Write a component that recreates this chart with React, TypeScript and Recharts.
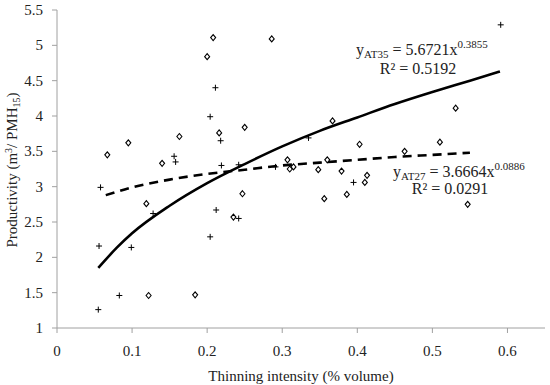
import {
  ComposedChart,
  Scatter,
  Line,
  XAxis,
  YAxis,
} from 'recharts';

// AT27 observations (diamonds)
const at27X = [
  0.067, 0.095, 0.119, 0.122, 0.14, 0.163, 0.184, 0.2, 0.208, 0.216, 0.235, 0.247,
  0.25, 0.286, 0.307, 0.31, 0.315, 0.348, 0.356, 0.36, 0.367, 0.379, 0.386, 0.403,
  0.41, 0.413, 0.463, 0.51, 0.531, 0.547,
];
const at27Y = [
  3.45, 3.62, 2.76, 1.46, 3.33, 3.71, 1.47, 4.84, 5.11, 3.76, 2.57, 2.9,
  3.84, 5.09, 3.38, 3.25, 3.28, 3.24, 2.83, 3.38, 3.93, 3.22, 2.89, 3.6,
  3.06, 3.16, 3.5, 3.63, 4.11, 2.75,
];

// AT35 observations (plus signs)
const at35X = [
  0.055, 0.056, 0.058, 0.083, 0.099, 0.128, 0.156, 0.158, 0.204, 0.204, 0.211, 0.212,
  0.218, 0.219, 0.242, 0.242, 0.291, 0.335, 0.395, 0.591,
];
const at35Y = [
  1.26, 2.16, 2.99, 1.46, 2.14, 2.62, 3.43, 3.35, 3.99, 2.29, 4.4, 2.67,
  3.65, 3.3, 3.31, 2.55, 3.28, 3.69, 3.06, 5.29,
];

// trend lines
const fit35X = [0.055, 0.08, 0.1, 0.15, 0.2, 0.25, 0.3, 0.35, 0.4, 0.45, 0.5, 0.55, 0.59];
const fit35Y = [1.85, 2.14, 2.34, 2.73, 3.05, 3.32, 3.57, 3.79, 3.98, 4.17, 4.34, 4.5, 4.63];
const fit27X = [0.065, 0.1, 0.15, 0.2, 0.25, 0.3, 0.35, 0.4, 0.45, 0.5, 0.55];
const fit27Y = [2.88, 2.99, 3.1, 3.18, 3.24, 3.3, 3.34, 3.38, 3.42, 3.45, 3.48];

const xTicks = [0, 0.1, 0.2, 0.3, 0.4, 0.5, 0.6];
const yTicks = [1, 1.5, 2, 2.5, 3, 3.5, 4, 4.5, 5, 5.5];

const zip = (xs: number[], ys: number[]) => xs.map((x, i) => ({ x, y: ys[i] }));

const FONT = 'Liberation Serif, DejaVu Serif, serif';
const AXIS = '#a0a0a0';
const TXT = '#222';
const txtStyle = { fontFamily: FONT, fontSize: 15, fill: TXT };

const Diamond = (props: any) => {
  const { cx, cy } = props;
  return (
    <polygon
      points={`${cx},${cy - 3} ${cx + 2.5},${cy} ${cx},${cy + 3} ${cx - 2.5},${cy}`}
      fill="#fff"
      stroke="#000"
      strokeWidth={1.1}
    />
  );
};

const Plus = (props: any) => {
  const { cx, cy } = props;
  return (
    <path
      d={`M${cx - 3},${cy}H${cx + 3}M${cx},${cy - 3}V${cy + 3}`}
      stroke="#000"
      strokeWidth={1}
    />
  );
};

const XTick = (props: any) => {
  const { x, y, payload } = props;
  return (
    <text x={x} y={y} dy={10} textAnchor="middle" style={txtStyle}>
      {payload.value}
    </text>
  );
};

const YTick = (props: any) => {
  const { x, y, payload } = props;
  return (
    <text x={x} y={y} dy={5} textAnchor="end" style={txtStyle}>
      {payload.value}
    </text>
  );
};

const XLabel = () => (
  <text x={301} y={381} textAnchor="middle" style={txtStyle}>
    Thinning intensity (% volume)
  </text>
);

const YLabel = () => (
  <text transform="translate(17,170) rotate(-90)" textAnchor="middle" style={txtStyle}>
    <tspan>Productivity (m</tspan>
    <tspan dy={-5} fontSize={10}>3</tspan>
    <tspan dy={5}>/ PMH</tspan>
    <tspan dy={3} fontSize={10}>15</tspan>
    <tspan dy={-3}>)</tspan>
  </text>
);

const Equations = () => (
  <g style={{ fontFamily: FONT, fill: TXT }}>
    <text x={356} y={55} fontSize={16}>
      <tspan>y</tspan>
      <tspan dy={3} fontSize={11}>AT35</tspan>
      <tspan dy={-3}> = 5.6721x</tspan>
      <tspan dy={-7} fontSize={11}>0.3855</tspan>
    </text>
    <text x={418} y={74} fontSize={16} textAnchor="middle">R² = 0.5192</text>
    <text x={393} y={177} fontSize={16}>
      <tspan>y</tspan>
      <tspan dy={3} fontSize={11}>AT27</tspan>
      <tspan dy={-3}> = 3.6664x</tspan>
      <tspan dy={-7} fontSize={11}>0.0886</tspan>
    </text>
    <text x={450} y={194} fontSize={16} textAnchor="middle">R² = 0.0291</text>
  </g>
);

export default function App() {
  return (
    <div style={{ position: 'absolute', left: 0, top: 0, background: '#fff' }}>
      <ComposedChart
        width={550}
        height={385}
        margin={{ top: 10, right: 5, bottom: 0, left: 0 }}
      >
        <XAxis
          type="number"
          dataKey="x"
          domain={[0, 0.65]}
          ticks={xTicks}
          allowDataOverflow
          stroke={AXIS}
          tickSize={5}
          tickMargin={13}
          height={57}
          tick={<XTick />}
        />
        <YAxis
          type="number"
          dataKey="y"
          domain={[1, 5.5]}
          ticks={yTicks}
          allowDataOverflow
          stroke={AXIS}
          tickSize={5}
          tickMargin={9}
          width={57}
          tick={<YTick />}
        />
        <Scatter data={zip(at27X, at27Y)} shape={Diamond} isAnimationActive={false} />
        <Scatter data={zip(at35X, at35Y)} shape={Plus} isAnimationActive={false} />
        <Line
          data={zip(fit35X, fit35Y)}
          dataKey="y"
          type="monotone"
          stroke="#000"
          strokeWidth={2.6}
          dot={false}
          isAnimationActive={false}
        />
        <Line
          data={zip(fit27X, fit27Y)}
          dataKey="y"
          type="monotone"
          stroke="#000"
          strokeWidth={2.6}
          strokeDasharray="9 6"
          dot={false}
          isAnimationActive={false}
        />
        <XLabel />
        <YLabel />
        <Equations />
      </ComposedChart>
    </div>
  );
}
